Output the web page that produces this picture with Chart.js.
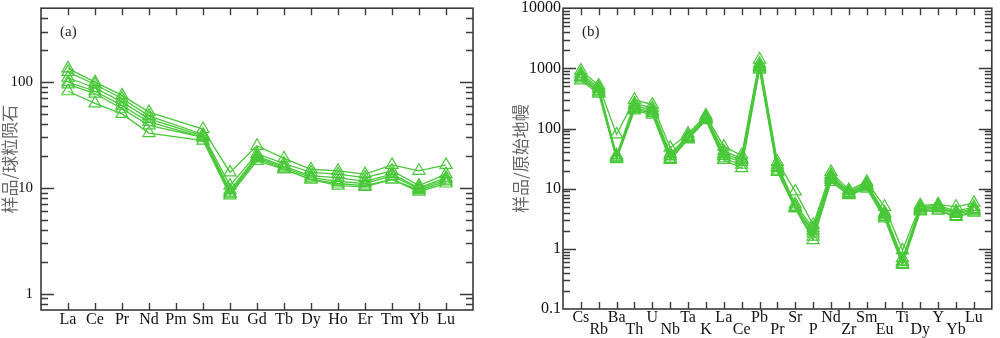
<!DOCTYPE html>
<html>
<head>
<meta charset="utf-8">
<script src="https://cdn.jsdelivr.net/npm/chart.js@4.4.1/dist/chart.umd.min.js"></script>
<style>
  body { margin: 0; background: #fff; }
  #wrapA { position: absolute; left: 0; top: 0; width: 490px; height: 338px; }
  #wrapB { position: absolute; left: 490px; top: 0; width: 510px; height: 338px; }
</style>
</head>
<body>
<div id="wrapA"><canvas id="chartA"></canvas></div>
<div id="wrapB"><canvas id="chartB"></canvas></div>
<script>
// (a) chondrite normalised REE
var reeLabels = ["La","Ce","Pr","Nd","Pm","Sm","Eu","Gd","Tb","Dy","Ho","Er","Tm","Yb","Lu"];
var reeS1 = [135, 100, 75, 52, null, 36, 14, 25, 19, 15, 14.5, 13.5, 16.5, 14.5, 16.5];
var reeS2 = [125, 95, 70, 48, null, 32, 10.5, 21, 17, 14, 13.5, 12.5, 14.5, 10.5, 13.5];
var reeS3 = [110, 88, 65, 45, null, 31, 9.5, 20, 16, 13, 12.5, 11.5, 13.5, 10, 12.5];
var reeS4 = [100, 82, 60, 42, null, 30, 9, 19.5, 15.5, 12.5, 11.5, 11, 13, 9.8, 12];
var reeS5 = [95, 78, 56, 39, null, 30, 8.8, 19, 15, 12, 11, 10.5, 12, 9.5, 11.5];
var reeS6 = [82, 63, 50, 33, null, 28, 8.5, 18, 15, 12, 10.5, 10.2, 12, 9.2, 11];
var reeTicks = [1, 10, 100];

// (b) primitive mantle normalised trace elements
var pmLabels = ["Cs","Rb","Ba","Th","U","Nb","Ta","K","La","Ce","Pb","Pr","Sr","P","Nd","Zr","Sm","Eu","Ti","Dy","Y","Yb","Lu"];
var pmS1 = [920, 520, 80, 300, 250, 48, 82, 165, 50, 36, 1400, 28, 9, 2.5, 19, 9.5, 13, 5, 0.95, 5.3, 5.5, 5, 5.8];
var pmS2 = [820, 480, 36, 260, 220, 38, 76, 155, 42, 32, 1200, 25, 5.5, 2.2, 17, 9, 12, 4, 0.7, 5, 5.3, 4.2, 5];
var pmS3 = [760, 450, 34, 240, 200, 35, 72, 150, 38, 30, 1100, 23, 5, 2.0, 16, 8.5, 11.5, 3.8, 0.62, 4.7, 5, 4, 4.6];
var pmS4 = [720, 420, 33, 220, 190, 33, 70, 145, 35, 28, 1050, 22, 5, 1.8, 15, 8.2, 11, 3.6, 0.6, 4.5, 4.8, 3.8, 4.4];
var pmS5 = [680, 400, 32, 210, 180, 31, 68, 140, 32, 25, 1000, 20, 4.8, 1.6, 14, 8, 10.5, 3.4, 0.56, 4.3, 4.5, 3.5, 4.2];
var pmS6 = [630, 380, 31, 200, 170, 30, 66, 138, 30, 22, 950, 19, 4.7, 1.4, 13, 7.8, 10, 3.2, 0.54, 4.2, 4.3, 3.4, 4.0];
var pmTicks = [0.1, 1, 10, 100, 1000, 10000];

var green = "#48c838";
var axisColor = "#3a3a3a";

function makeSets(list, n) {
    var sets = [];
    for (var k = 0; k < list.length; k++) {
        var pts = [];
        for (var i = 0; i < n; i++) {
            pts.push({x: i + 1, y: list[k][i]});
        }
        sets.push({
            data: pts,
            borderColor: green,
            backgroundColor: "rgba(0,0,0,0)",
            borderWidth: 1.3,
            pointStyle: "triangle",
            pointRadius: 7,
            pointBorderWidth: 1.2,
            pointBorderColor: green,
            pointBackgroundColor: "rgba(0,0,0,0)",
            spanGaps: true,
            tension: 0
        });
    }
    return sets;
}

// frame with inward ticks, drawn through the chart's own scales
var framePlugin = {
    id: "frame",
    afterDraw: function(chart, args, opts) {
        var ctx = chart.ctx, a = chart.chartArea;
        var x = chart.scales.x, y = chart.scales.y;
        ctx.save();
        ctx.strokeStyle = axisColor;
        ctx.lineWidth = 1.6;
        ctx.strokeRect(a.left, a.top, a.right - a.left, a.bottom - a.top);
        ctx.lineWidth = 1.4;
        ctx.beginPath();
        for (var i = 1; i <= opts.n; i++) {
            var px = Math.round(x.getPixelForValue(i)) + 0.5;
            ctx.moveTo(px, a.bottom); ctx.lineTo(px, a.bottom - 7);
            ctx.moveTo(px, a.top); ctx.lineTo(px, a.top + 7);
        }
        var lo = Math.floor(Math.log10(y.min)), hi = Math.ceil(Math.log10(y.max));
        for (var d = lo; d <= hi; d++) {
            for (var m = 1; m <= 9; m++) {
                var v = m * Math.pow(10, d);
                if (v < y.min * 1.001 || v > y.max * 0.999) continue;
                var py = Math.round(y.getPixelForValue(v)) + 0.5;
                var len = m === 1 ? 13 : 7;
                ctx.moveTo(a.left, py); ctx.lineTo(a.left + len, py);
                ctx.moveTo(a.right, py); ctx.lineTo(a.right - len, py);
            }
        }
        ctx.stroke();
        ctx.fillStyle = "#222";
        ctx.font = "15px 'Liberation Serif'";
        ctx.textBaseline = "middle";
        ctx.fillText(opts.tag, a.left + 19, a.top + 24);
        ctx.restore();
    }
};

function makeChart(id, sets, labels, ticks, ymin, ymax, cfg) {
    var n = labels.length;
    return new Chart(document.getElementById(id), {
        type: "line",
        data: { datasets: sets },
        plugins: [framePlugin],
        options: {
            responsive: true,
            maintainAspectRatio: false,
            animation: false,
            layout: { padding: { left: 0, top: 7, right: cfg.padRight, bottom: 0 } },
            plugins: {
                legend: { display: false },
                tooltip: { enabled: false },
                frame: { n: n, tag: cfg.tag }
            },
            scales: {
                x: {
                    type: "linear",
                    min: 0,
                    max: n + 1,
                    grid: { display: false, drawTicks: false },
                    border: { display: false },
                    afterBuildTicks: function(s) {
                        var t = [];
                        for (var i = 1; i <= n; i++) t.push({value: i});
                        s.ticks = t;
                    },
                    afterFit: function(s) {
                        s.height = cfg.xHeight;
                        s.paddingLeft = 0; s.paddingRight = 0;
                    },
                    ticks: {
                        autoSkip: false,
                        maxRotation: 0,
                        padding: cfg.xPad,
                        color: "#111",
                        font: { family: "'Liberation Serif'", size: 16, lineHeight: cfg.lineHeight },
                        callback: function(v) {
                            var name = labels[v - 1] || "";
                            if (!cfg.stagger) return name;
                            return (v - 1) % 2 === 0 ? [name, ""] : ["", name];
                        }
                    }
                },
                y: {
                    type: "logarithmic",
                    min: ymin,
                    max: ymax,
                    grid: { display: false, drawTicks: false },
                    border: { display: false },
                    afterBuildTicks: function(s) {
                        s.ticks = ticks.map(function(v) { return {value: v}; });
                    },
                    afterFit: function(s) {
                        s.width = cfg.yWidth;
                        s.paddingTop = 0; s.paddingBottom = 0;
                    },
                    ticks: {
                        padding: cfg.yPad,
                        color: "#111",
                        font: { family: "'Liberation Serif'", size: cfg.ySize },
                        callback: function(v) { return String(v); }
                    },
                    title: {
                        display: true,
                        text: cfg.title,
                        color: "#666",
                        padding: { top: cfg.titlePad, bottom: 0 },
                        font: { family: "'Noto Sans CJK SC'", size: 17, lineHeight: 1.1 }
                    }
                }
            }
        }
    });
}

makeChart("chartA", makeSets([reeS1, reeS2, reeS3, reeS4, reeS5, reeS6], reeLabels.length),
    reeLabels, reeTicks, 0.7, 500,
    { tag: "(a)", padRight: 17, xHeight: 28, xPad: 2, lineHeight: 1, stagger: false,
      yWidth: 41, yPad: 8, ySize: 15, title: "样品/球粒陨石", titlePad: 0 });

makeChart("chartB", makeSets([pmS1, pmS2, pmS3, pmS4, pmS5, pmS6], pmLabels.length),
    pmLabels, pmTicks, 0.1, 10000,
    { tag: "(b)", padRight: 2, xHeight: 29, xPad: 3, lineHeight: 0.75, stagger: true,
      yWidth: 73, yPad: 2, ySize: 16, title: "样品/原始地幔", titlePad: 21 });
</script>
</body>
</html>
